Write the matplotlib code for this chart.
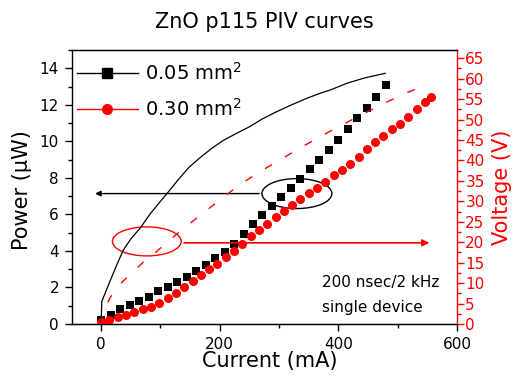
import numpy as np
import matplotlib
matplotlib.use('Agg')
import matplotlib.pyplot as plt
from matplotlib.patches import Ellipse
from matplotlib.lines import Line2D
from matplotlib.ticker import MultipleLocator

plt.rcParams['font.family'] = ['DejaVu Sans']

# 0.05 mm2 device: light output (squares)
cur_a = [0, 16, 32, 48, 64, 80, 96, 112, 128, 144, 160, 176, 192, 208, 224, 240,
         256, 272, 288, 304, 320, 336, 352, 368, 384, 400, 416, 432, 448, 464, 480]
pow_a = [0.2, 0.5, 0.8, 1.05, 1.25, 1.5, 1.8, 2.05, 2.3, 2.6, 2.9, 3.25, 3.6, 3.95, 4.4, 4.9,
         5.45, 5.95, 6.45, 6.95, 7.45, 7.95, 8.5, 9.0, 9.55, 10.1, 10.7, 11.25, 11.85, 12.45, 13.1]

# 0.30 mm2 device: light output (circles)
cur_b = [0, 14, 28, 42, 56, 70, 84, 98, 112, 126, 140, 154, 168, 182, 196, 210, 224, 238,
         252, 266, 280, 294, 308, 322, 336, 350, 364, 378, 392, 406, 420, 434, 448, 462,
         476, 490, 504, 518, 532, 546, 556]
pow_b = [0.1, 0.22, 0.36, 0.5, 0.65, 0.8, 0.95, 1.15, 1.4, 1.7, 2.0, 2.35, 2.7, 3.0, 3.3, 3.65,
         4.0, 4.4, 4.8, 5.15, 5.5, 5.85, 6.2, 6.5, 6.85, 7.15, 7.45, 7.8, 8.15, 8.45, 8.75,
         9.15, 9.6, 9.95, 10.3, 10.65, 10.95, 11.35, 11.75, 12.15, 12.45]

# voltage curves
vcur_a = [0, 1, 8, 15, 25, 37, 50, 66, 83, 100, 115, 130, 148, 167, 186, 206, 228, 251,
          270, 290, 318, 347, 367, 386, 415, 445, 479]
volt_a = [0.4, 5.5, 8.0, 10.5, 14.0, 18.0, 20.8, 23.5, 27.0, 30.0, 32.6, 35.3, 38.3, 40.7,
          42.9, 44.9, 46.6, 48.3, 50.0, 51.5, 53.4, 55.2, 56.3, 57.2, 58.9, 60.2, 61.3]
vcur_b = [0, 3, 10, 19, 35, 52, 70, 91, 116, 140, 162, 192, 231, 265, 302, 336, 373, 406,
          445, 479, 516, 551]
volt_b = [0.0, 2.7, 5.0, 7.4, 10.2, 12.5, 15.0, 17.4, 20.6, 23.5, 26.0, 29.4, 33.8, 37.0,
          40.2, 43.1, 46.1, 48.7, 51.6, 54.1, 56.6, 58.6]

labels = ['0.05 mm$^2$', '0.30 mm$^2$']

fig = plt.figure(figsize=(5.16, 3.79), dpi=100)
ax = fig.add_axes([0.1386, 0.1451, 0.7471, 0.7230])
ax2 = ax.twinx()

ax.plot(cur_a, pow_a, ls='none', marker='s', ms=6, color='black', mew=0, zorder=3)
ax.plot(cur_b, pow_b, ls='none', marker='o', ms=6.5, color='red', mew=0, zorder=4)
ax2.plot(vcur_a, volt_a, color='black', lw=0.9)
ax2.plot(vcur_b, volt_b, color='red', lw=1.0, dashes=(5.8, 10.8))

ax.set_xlim(-50, 600)
ax.set_ylim(0, 15)
ax2.set_ylim(0, 67)

# annotations: ellipse + arrow pointing to the axis
ax.add_patch(Ellipse((330, 7.14), 118, 1.64, fill=False, ec='black', lw=1.0))
ax.annotate('', xy=(-15, 7.14), xytext=(271, 7.14),
            arrowprops=dict(arrowstyle='-|>', color='black', lw=1.0, mutation_scale=8))
ax2.add_patch(Ellipse((77, 20.2), 116, 7.1, fill=False, ec='red', lw=1.0))
ax2.annotate('', xy=(558, 19.85), xytext=(135, 19.85),
             arrowprops=dict(arrowstyle='-|>', color='red', lw=1.2, mutation_scale=10))

# ticks
ax.xaxis.set_major_locator(MultipleLocator(200))
ax.xaxis.set_minor_locator(MultipleLocator(100))
ax.yaxis.set_major_locator(MultipleLocator(2))
ax.yaxis.set_minor_locator(MultipleLocator(1))
ax.tick_params(which='major', direction='out', length=5, width=1, labelsize=11, pad=4)
ax.tick_params(which='minor', direction='out', length=3, width=1)
ax2.yaxis.set_major_locator(MultipleLocator(5))
ax2.yaxis.set_minor_locator(MultipleLocator(2.5))
ax2.tick_params(which='major', direction='out', length=5, width=1, labelsize=11,
                pad=1, color='red', labelcolor='red')
ax2.tick_params(which='minor', direction='out', length=3, width=1, color='red')

ax.spines['right'].set_visible(False)
ax2.spines['left'].set_visible(False)
ax2.spines['right'].set_color('red')
for s in ax.spines.values():
    s.set_linewidth(1.0)
ax2.spines['right'].set_linewidth(1.0)

ax.set_xlabel('Current (mA)', fontsize=15)
ax.xaxis.set_label_coords(0.515, -0.10)
ax.set_ylabel('Power (\u00b5W)', fontsize=15)
ax.yaxis.set_label_coords(-0.102, 0.49)
ax2.set_ylabel('Voltage (V)', fontsize=15, color='red')
ax2.yaxis.set_label_coords(1.09, 0.5)

fig.text(264 / 516, 1 - 28 / 379, 'ZnO p115 PIV curves', ha='center', va='baseline', fontsize=15)

ax.text(0.649, 0.150, '200 nsec/2 kHz', transform=ax.transAxes, fontsize=11, va='center')
ax.text(0.649, 0.062, 'single device', transform=ax.transAxes, fontsize=11, va='center')

handles = [Line2D([], [], color='black', lw=1.0, marker='s', ms=7),
           Line2D([], [], color='red', lw=1.0, marker='o', ms=7)]
ax.legend(handles, labels, loc='upper left', bbox_to_anchor=(0.015, 0.955), frameon=False,
          fontsize=14, handlelength=3.1, handletextpad=0.4, labelspacing=0.7,
          borderpad=0, borderaxespad=0)

fig.savefig('out.png', dpi=100)
